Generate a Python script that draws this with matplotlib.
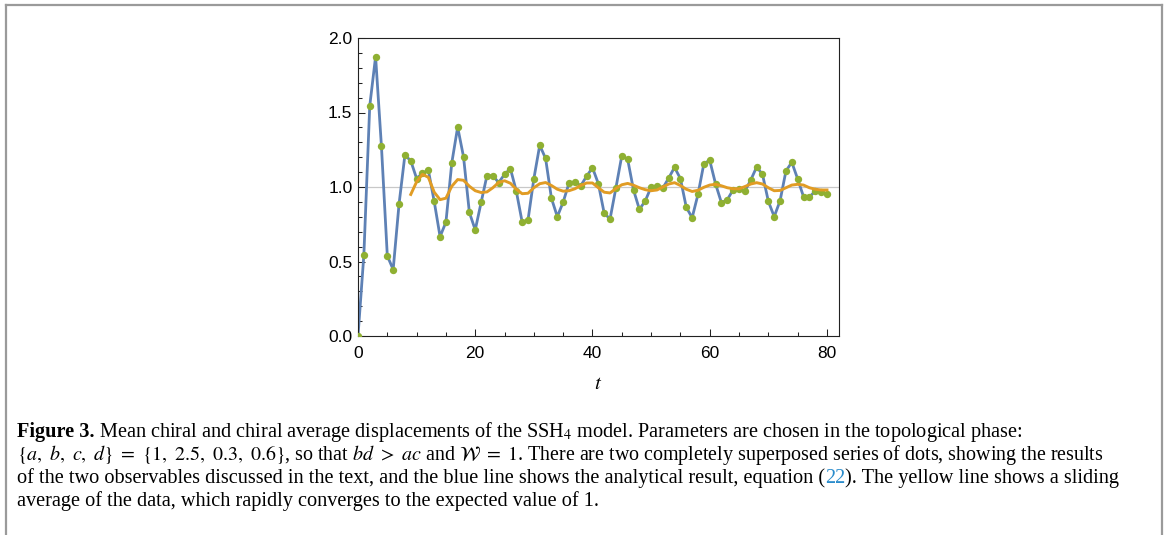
import matplotlib
matplotlib.use("Agg")
import matplotlib.pyplot as plt
from matplotlib.lines import Line2D
from matplotlib.ticker import MultipleLocator

plt.rcParams['mathtext.fontset'] = 'stix'

# ---- data ----
t_points = list(range(81))
dot_values = [0.0, 0.544, 1.543, 1.875, 1.272, 0.538, 0.446, 0.885, 1.214, 1.176,
              1.057, 1.093, 1.113, 0.903, 0.667, 0.764, 1.162, 1.402, 1.203, 0.829,
              0.712, 0.896, 1.077, 1.075, 1.030, 1.085, 1.123, 0.973, 0.765, 0.778,
              1.056, 1.280, 1.192, 0.924, 0.801, 0.899, 1.027, 1.031, 1.009, 1.072,
              1.130, 1.022, 0.823, 0.786, 0.995, 1.210, 1.186, 0.980, 0.850, 0.906,
              1.000, 1.007, 0.993, 1.060, 1.132, 1.056, 0.864, 0.794, 0.951, 1.157,
              1.179, 1.020, 0.894, 0.915, 0.982, 0.987, 0.973, 1.047, 1.134, 1.085,
              0.904, 0.801, 0.908, 1.107, 1.166, 1.054, 0.935, 0.933, 0.973, 0.964,
              0.951]
analytic_values = dot_values
t_avg = list(range(9, 81))
avg_values = [0.95, 1.035, 1.085, 1.065, 0.965, 0.915, 0.925, 1.005, 1.05, 1.045,
              1.005, 0.975, 0.963, 0.967, 0.995, 1.03, 1.042, 1.025, 0.985, 0.955,
              0.958, 0.995, 1.022, 1.03, 1.01, 0.985, 0.972, 0.975, 0.988, 1.01,
              1.027, 1.027, 0.995, 0.965, 0.96, 0.99, 1.015, 1.024, 1.012, 0.995,
              0.982, 0.975, 0.98, 1.0, 1.02, 1.029, 1.01, 0.985, 0.97, 0.978,
              0.998, 1.013, 1.018, 1.008, 0.995, 0.988, 0.988, 1.003, 1.02, 1.029,
              1.02, 0.995, 0.975, 0.977, 0.995, 1.013, 1.018, 1.013, 0.995, 0.985,
              0.98, 0.98]
x_ticks = [0, 20, 40, 60, 80]
y_ticks = [0.0, 0.5, 1.0, 1.5, 2.0]
y_ticklabels = ["0.0", "0.5", "1.0", "1.5", "2.0"]

BLUE = '#5E81B5'
ORANGE = '#E19C24'
GREEN = '#8FB032'

fig = plt.figure(figsize=(11.65, 5.35), dpi=100)
ax = fig.add_axes([358 / 1165, 1 - 336 / 535, (838.7 - 358) / 1165, (336 - 38) / 535])

ax.axhline(1.0, color='#c8c8c8', lw=0.9, zorder=1)
ax.plot(t_points, analytic_values, color=BLUE, lw=2.0, zorder=2)
ax.plot(t_points, dot_values, 'o', color=GREEN, ms=5.3, mec='none', zorder=3)
ax.plot(t_avg, avg_values, color=ORANGE, lw=2.1, zorder=4)

ax.set_xlim(0, 82)
ax.set_ylim(0, 2.0)
ax.set_xticks(x_ticks)
ax.set_xticklabels([str(v) for v in x_ticks])
ax.set_yticks(y_ticks)
ax.set_yticklabels(y_ticklabels)
ax.xaxis.set_minor_locator(MultipleLocator(5))
ax.yaxis.set_minor_locator(MultipleLocator(0.1))
ax.tick_params(which='both', direction='in', top=False, right=False, width=0.75,
               labelsize=12.5, colors='#222222', labelcolor='black')
ax.tick_params(which='major', length=5)
ax.tick_params(which='minor', length=3)
ax.tick_params(axis='y', pad=4)
ax.tick_params(axis='x', pad=7)
for lab in ax.get_xticklabels() + ax.get_yticklabels():
    lab.set_fontfamily('Liberation Sans')
for sp in ax.spines.values():
    sp.set_linewidth(0.8)
    sp.set_color('#222222')
ax.set_xlabel(r'$t$', fontsize=15, labelpad=9)

# ---- frame border ----
bc = '#9a9a9a'
fig.add_artist(Line2D([6 / 1165, 6 / 1165], [0, 1 - 5 / 535], color=bc, lw=1.6))
fig.add_artist(Line2D([1161.5 / 1165, 1161.5 / 1165], [0, 1 - 5 / 535], color=bc, lw=1.6))
fig.add_artist(Line2D([6 / 1165, 1161.5 / 1165], [1 - 5 / 535, 1 - 5 / 535], color=bc, lw=1.6))

# ---- caption ----
cap_fs = 14.6
cap_font = 'Liberation Serif'
x0 = 17 / 1165
ys = [1 - 437 / 535, 1 - 460 / 535, 1 - 483 / 535, 1 - 506 / 535]

def piece(prev, s, y, **kw):
    return ax.annotate(s, xy=(1, y), xycoords=(prev, 'figure fraction'),
                       va='baseline', ha='left', fontsize=cap_fs,
                       fontfamily=cap_font, annotation_clip=False, **kw)

p = fig.text(x0, ys[0], 'Figure 3.', fontsize=cap_fs, fontfamily=cap_font,
             fontweight='bold', va='baseline')
piece(p, ' Mean chiral and chiral average displacements of the SSH$_4$ model. '
         'Parameters are chosen in the topological phase:', ys[0])
fig.text(x0, ys[1], r'$\{a,\ b,\ c,\ d\}\ =\ \{1,\ 2.5,\ 0.3,\ 0.6\}$, so that $bd\ >\ ac$ '
         r'and $\mathcal{W}\ =\ 1$. There are two completely superposed series of dots, '
         'showing the results', fontsize=cap_fs * 0.985, fontfamily=cap_font, va='baseline')
p = fig.text(x0, ys[2], 'of the two observables discussed in the text, and the blue line '
             'shows the analytical result, equation (', fontsize=cap_fs,
             fontfamily=cap_font, va='baseline')
p = piece(p, '22', ys[2], color='#2a8ccc')
piece(p, '). The yellow line shows a sliding', ys[2])
fig.text(x0, ys[3], 'average of the data, which rapidly converges to the expected value of 1.',
         fontsize=cap_fs, fontfamily=cap_font, va='baseline')

fig.savefig('out.png', dpi=100)
